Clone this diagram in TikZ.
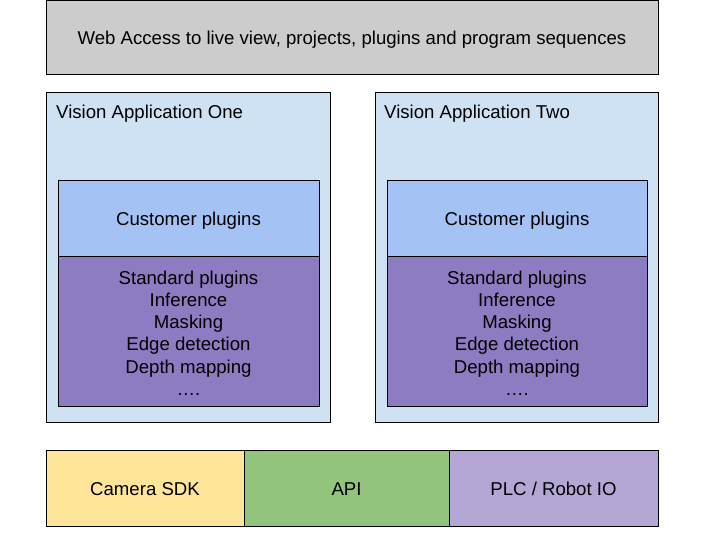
\documentclass[tikz,border=0pt]{standalone}
\usepackage{fontspec}
\setmainfont{Liberation Sans}
\definecolor{cgray}{HTML}{CCCCCC}
\definecolor{cltblue}{HTML}{CFE2F3}
\definecolor{ccust}{HTML}{A4C2F4}
\definecolor{cpurple}{HTML}{8E7CC3}
\definecolor{cyellow}{HTML}{FFE599}
\definecolor{cgreen}{HTML}{93C47D}
\definecolor{clav}{HTML}{B4A7D6}
\begin{document}
\begin{tikzpicture}[x=1pt,y=-1pt,
  box/.style={draw=black,line width=1pt,inner sep=0pt,outer sep=0pt},
  txt/.style={inner sep=0pt,font=\fontsize{18.6}{22.2}\selectfont,align=center},
  lbl/.style={inner sep=0pt,font=\fontsize{18.6}{22.2}\selectfont,anchor=north west}]
\useasboundingbox[fill=white] (0,0) rectangle (720,540);
% top
\node[box,fill=cgray,minimum width=612pt,minimum height=74pt] (web) at (352,38) {};
\node[txt] (webt) at ([yshift=-2pt]web.center) {Web Access to live view, projects, plugins and program sequences};
% app one
\node[box,fill=cltblue,minimum width=284pt,minimum height=329pt] (app1) at (188,257.5) {};
\node[lbl] (t1) at (56,104.5) {Vision Application One};
\node[box,fill=ccust,minimum width=261pt,minimum height=75pt] (c1) at (188.5,218.5) {};
\node[txt] (c1t) at ([yshift=-2pt]c1.center) {Customer plugins};
\node[box,fill=cpurple,minimum width=261pt,minimum height=150pt] (s1) at (188.5,331) {};
\node[txt] (s1t) at ([yshift=-2pt]s1.center) {Standard plugins\\Inference\\Masking\\Edge detection\\Depth mapping\\….};
% app two
\node[box,fill=cltblue,minimum width=283pt,minimum height=329pt] (app2) at (516.5,257.5) {};
\node[lbl] (t2) at (384,104.5) {Vision Application Two};
\node[box,fill=ccust,minimum width=260pt,minimum height=75pt] (c2) at (517,218.5) {};
\node[txt] (c2t) at ([yshift=-2pt]c2.center) {Customer plugins};
\node[box,fill=cpurple,minimum width=260pt,minimum height=150pt] (s2) at (517,331) {};
\node[txt] (s2t) at ([yshift=-2pt]s2.center) {Standard plugins\\Inference\\Masking\\Edge detection\\Depth mapping\\….};
% bottom
\node[box,fill=cyellow,minimum width=198pt,minimum height=76pt] (cam) at (145,488) {};
\node[txt] (camt) at ([yshift=-1pt]cam.center) {Camera SDK};
\node[box,fill=cgreen,minimum width=205pt,minimum height=76pt] (api) at (346.5,488) {};
\node[txt] (apit) at ([yshift=-1pt]api.center) {API};
\node[box,fill=clav,minimum width=209pt,minimum height=76pt] (plc) at (553.5,488) {};
\node[txt] (plct) at ([yshift=-1pt]plc.center) {PLC / Robot IO};
\end{tikzpicture}
\end{document}
